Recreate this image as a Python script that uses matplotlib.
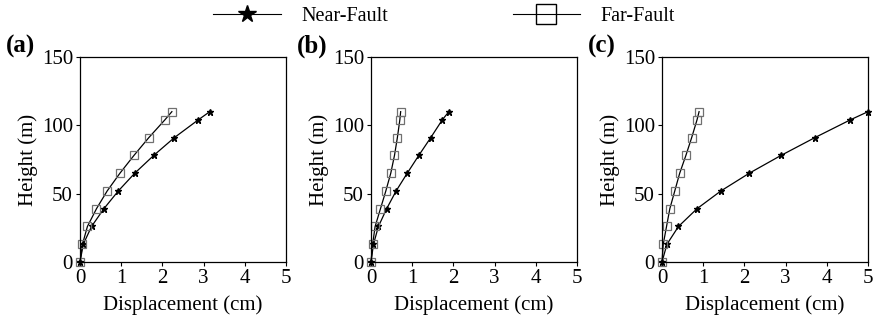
import matplotlib
matplotlib.use('Agg')
import matplotlib.pyplot as plt
from matplotlib.lines import Line2D

plt.rcParams['font.family'] = ['Liberation Serif', 'DejaVu Serif']

heights = [0, 13, 26, 39, 52, 65, 78, 91, 104, 110]

near_a = [0, 0.08, 0.28, 0.58, 0.93, 1.33, 1.79, 2.29, 2.87, 3.15]
far_a = [0, 0.06, 0.18, 0.40, 0.66, 0.97, 1.31, 1.67, 2.06, 2.23]

near_b = [0, 0.06, 0.18, 0.38, 0.61, 0.88, 1.16, 1.45, 1.73, 1.89]
far_b = [0, 0.04, 0.10, 0.23, 0.36, 0.48, 0.57, 0.64, 0.70, 0.72]

near_c = [0, 0.12, 0.40, 0.85, 1.43, 2.12, 2.89, 3.71, 4.57, 5.0]
far_c = [0, 0.03, 0.11, 0.19, 0.31, 0.43, 0.58, 0.72, 0.85, 0.90]

panels = ['(a)', '(b)', '(c)']
near_all = [near_a, near_b, near_c]
far_all = [far_a, far_b, far_c]

fig = plt.figure(figsize=(8.74, 3.26), dpi=100)
lefts = [80, 371, 662]
for i, left in enumerate(lefts):
    ax = fig.add_axes([left / 874, 64 / 326, 206 / 874, 205 / 326])
    ax.plot(near_all[i], heights, color='black', lw=0.9, marker='*',
            ms=5, mfc='black', mec='black', clip_on=False)
    ax.plot(far_all[i], heights, color='black', lw=0.9, marker='s',
            ms=5.5, mfc='none', mec='#707070', mew=0.9, clip_on=False)
    ax.set_xlim(0, 5)
    ax.set_ylim(0, 150)
    ax.set_xticks(range(6))
    ax.set_yticks([0, 50, 100, 150])
    ax.tick_params(direction='out', length=3, labelsize=15, pad=2)
    ax.set_xlabel('Displacement (cm)', fontsize=15, labelpad=5)
    ax.set_ylabel('Height (m)', fontsize=15, labelpad=3)
    for sp in ax.spines.values():
        sp.set_linewidth(0.9)
    fig.text((left - 74) / 874, 1 - 46 / 326, panels[i], fontsize=18,
             fontweight='bold', ha='left', va='center')

# legend uses bigger markers than the plots
lh1 = Line2D([], [], color='black', lw=0.8, marker='*', ms=13, mfc='black', mec='black')
lh2 = Line2D([], [], color='black', lw=0.8, marker='s', ms=14, mfc='none', mec='black', mew=1)
fig.legend([lh1, lh2], ['Near-Fault', 'Far-Fault'], loc='upper center',
           bbox_to_anchor=(0.508, 1.035), ncol=2, frameon=False, fontsize=14.5,
           handlelength=3.35, columnspacing=6.2, handletextpad=1.0)

fig.savefig('out.png', dpi=100)
